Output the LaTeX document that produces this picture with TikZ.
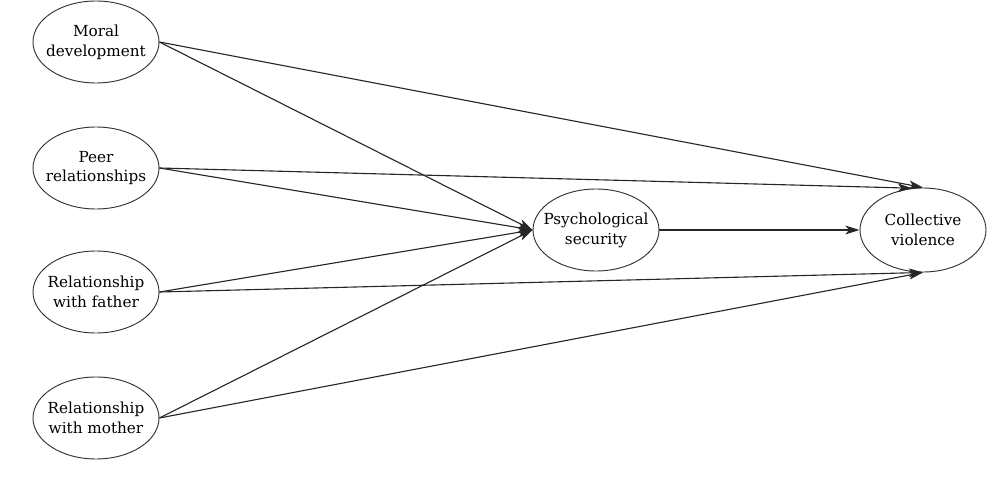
\documentclass[tikz,border=0pt]{standalone}
\usepackage{fontspec}
\setmainfont{DejaVu Serif}
\usetikzlibrary{shapes.geometric,arrows.meta}
\begin{document}
\begin{tikzpicture}[x=0.03cm,y=-0.03cm,
  var/.style={draw=black!80, line width=0.8pt, ellipse, inner sep=-22pt,
    minimum width=3.78cm, minimum height=2.46cm, align=center,
    font=\fontsize{13}{17}\selectfont},
  link/.style={draw=black!85, line width=0.95pt,
    -{Stealth[length=12pt,width=7.5pt,inset=3pt]}}]
\useasboundingbox (0,0) rectangle (1000,479);
\node[var] (m) at (96,42) {Moral\\development};
\node[var] (p) at (96,168) {Peer\\relationships};
\node[var] (f) at (96,292) {Relationship\\with father};
\node[var] (mo) at (96,418) {Relationship\\with mother};
\node[var] (s) at (596,230) {Psychological\\security};
\node[var, minimum height=2.52cm] (c) at (923,230) {Collective\\violence};
\draw[link] (m.east) -- (s.west);
\draw[link] (p.east) -- (s.west);
\draw[link] (f.east) -- (s.west);
\draw[link] (mo.east) -- (s.west);
\draw[link] (m.east) -- (c.north);
\draw[link] (p.east) -- (c.105);
\draw[link] (f.east) -- (c.south);
\draw[link] (mo.east) -- (c.south);
\draw[link] (s.east) -- (c.west);
\end{tikzpicture}
\end{document}
